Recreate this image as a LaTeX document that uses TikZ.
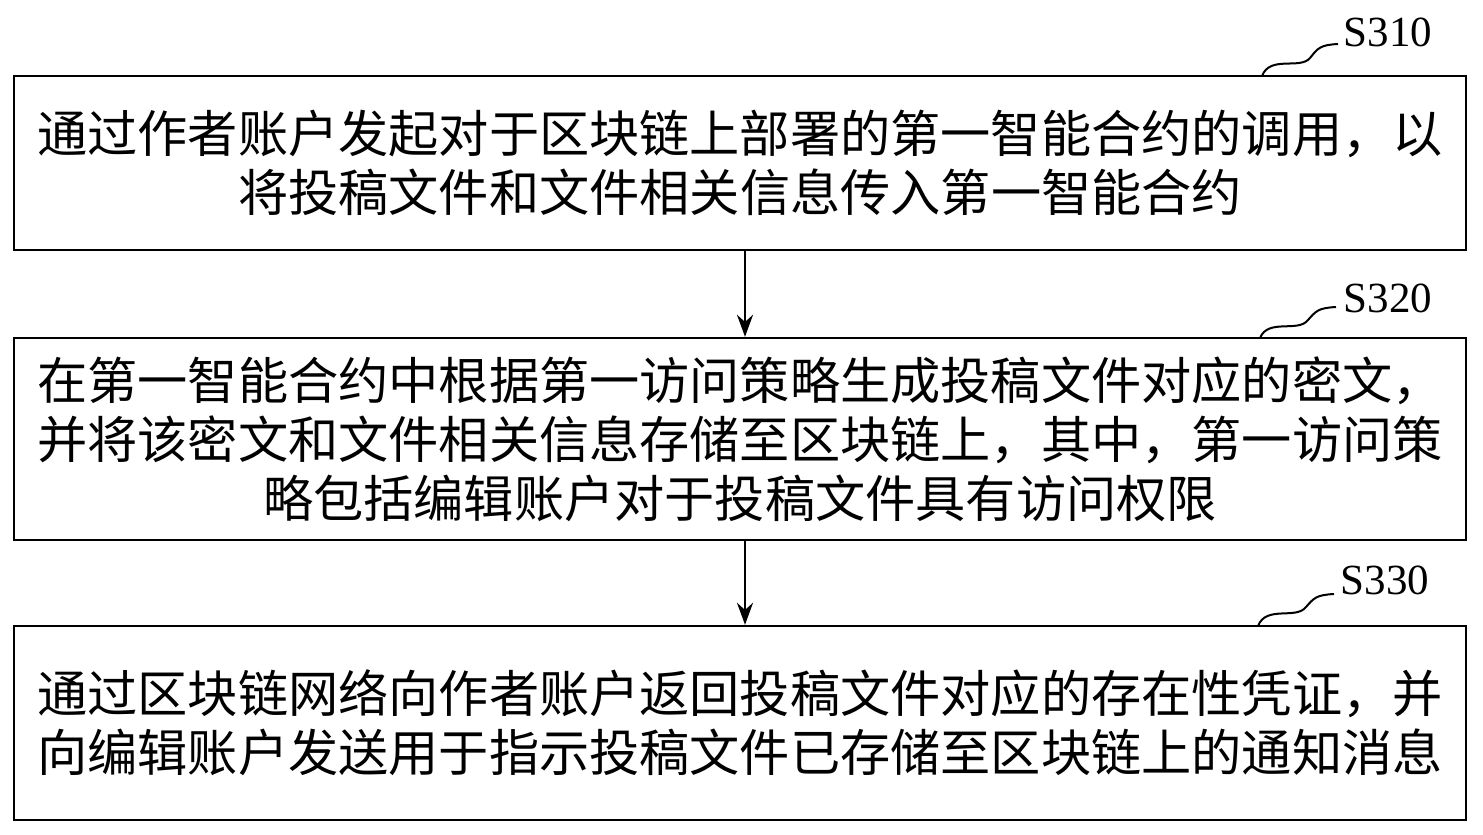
\documentclass[tikz,border=0pt]{standalone}
\usepackage{fontspec}
\newfontfamily\cjk{Noto Sans CJK SC}
\setmainfont{Liberation Serif}
\begin{document}
\begin{tikzpicture}[x=0.5pt,y=-0.5pt,
  stepbox/.style={draw,line width=1.2pt,minimum width=726pt,align=center,font=\cjk\fontsize{25.1}{29.5}\selectfont,inner sep=0pt},
  lab/.style={font=\fontsize{21.5}{23}\selectfont},
  arr/.style={-{Stealth[length=11pt,width=8pt]},line width=1.1pt},
  sq/.style={line width=1pt}]
\usetikzlibrary{arrows.meta}
\useasboundingbox (0,0) rectangle (1483,835);
\node[stepbox,minimum height=87pt] (b1) at (740,163) {通过作者账户发起对于区块链上部署的第一智能合约的调用，以\\将投稿文件和文件相关信息传入第一智能合约};
\node[stepbox,minimum height=101pt] (b2) at (740,439) {在第一智能合约中根据第一访问策略生成投稿文件对应的密文，\\并将该密文和文件相关信息存储至区块链上，其中，第一访问策\\略包括编辑账户对于投稿文件具有访问权限};
\node[stepbox,minimum height=97pt] (b3) at (740,723) {通过区块链网络向作者账户返回投稿文件对应的存在性凭证，并\\向编辑账户发送用于指示投稿文件已存储至区块链上的通知消息};
\draw[arr] (b1.south -| 745,0) -- (b2.north -| 745,0);
\draw[arr] (b2.south -| 745,0) -- (b3.north -| 745,0);
\node[lab] (l1) at (1388,32) {S310};
\node[lab] (l2) at (1388,298) {S320};
\node[lab] (l3) at (1385,580) {S330};
\coordinate (c1) at (1262,76);
\coordinate (c2) at (1260,338);
\coordinate (c3) at (1258,626);
\draw[sq] (c1) .. controls (1270,55) and (1300,70) .. (1310,58) .. controls (1318,48) and (1320,45) .. (1338,44);
\draw[sq] (c2) .. controls (1268,318) and (1298,333) .. (1308,320) .. controls (1316,311) and (1318,308) .. (1336,307);
\draw[sq] (c3) .. controls (1266,605) and (1296,620) .. (1306,607) .. controls (1314,598) and (1316,595) .. (1334,594);
\end{tikzpicture}
\end{document}
